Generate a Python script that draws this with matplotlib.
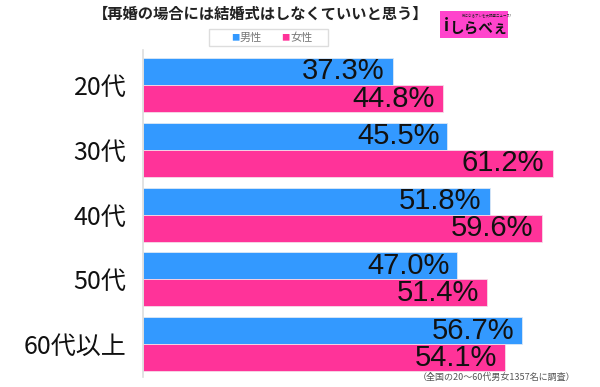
"""再婚の場合には結婚式はしなくていいと思う - 年代別棒グラフ。"""

import matplotlib

matplotlib.use("Agg")
import matplotlib.pyplot as plt
import numpy as np
from matplotlib.patches import Rectangle

plt.rcParams["font.family"] = ["Noto Sans CJK JP", "DejaVu Sans"]

categories = ["20代", "30代", "40代", "50代", "60代以上"]
male = [37.3, 45.5, 51.8, 47.0, 56.7]
female = [44.8, 61.2, 59.6, 51.4, 54.1]
series_names = ["男性", "女性"]

BLUE = "#3399ff"
PINK = "#ff3399"
NUM_FONT = ["Liberation Sans", "DejaVu Sans"]

fig = plt.figure(figsize=(6.0, 3.87), dpi=100)
ax = fig.add_axes([0.2383, 0.0258, 0.745, 0.845])

y = np.arange(len(categories))
h = 0.417
ax.barh(y - h / 2, male, height=h, color=BLUE, edgecolor="#dde8f5", linewidth=0.6)
ax.barh(y + h / 2, female, height=h, color=PINK, edgecolor="#f5dde8", linewidth=0.6)

for yi, (m, f) in enumerate(zip(male, female)):
    ax.text(m - 1.2, yi - h / 2, f"{m:.1f}%", ha="right", va="center",
            fontsize=21, color="#111111", family=NUM_FONT)
    ax.text(f - 1.2, yi + h / 2, f"{f:.1f}%", ha="right", va="center",
            fontsize=21, color="#111111", family=NUM_FONT)

ax.set_xlim(0, 66.8)
ax.set_ylim(4.506, -0.54)
ax.set_yticks(y)
ax.set_yticklabels(categories, fontsize=18, color="#111111")
ax.tick_params(axis="y", length=0, pad=12)
ax.set_xticks([])
for side in ["top", "right", "bottom"]:
    ax.spines[side].set_visible(False)
ax.spines["left"].set_color("#dddddd")
ax.spines["left"].set_linewidth(1.2)

# タイトル
fig.text(261 / 600, 1 - 14 / 387, "【再婚の場合には結婚式はしなくていいと思う】",
         ha="center", va="center", fontsize=11, fontweight="bold", color="#222222")

# 凡例
fig.patches.append(Rectangle((209 / 600, 1 - 46 / 387), 119 / 600, 17 / 387,
                             transform=fig.transFigure, facecolor="white",
                             edgecolor="#dddddd", linewidth=1))
for x0, col, name in [(235, BLUE, series_names[0]), (285, PINK, series_names[1])]:
    fig.text(x0 / 600, 1 - 37.5 / 387, "■", ha="center", va="center",
             fontsize=6, color=col)
    fig.text((x0 + 5) / 600, 1 - 37.5 / 387, name, ha="left", va="center",
             fontsize=8, color="#777777")

# ロゴ
fig.patches.append(Rectangle((440 / 600, 1 - 38 / 387), 68 / 600, 27 / 387,
                             transform=fig.transFigure, facecolor="#ff44cc",
                             edgecolor="none"))
fig.text(487 / 600, 1 - 16 / 387, "気になるアレを大調査ニュース!", ha="center",
         va="center", fontsize=2.5, color="#222222")
fig.text(446 / 600, 1 - 26 / 387, "i", ha="center", va="center",
         fontsize=12, fontweight="bold", color="#111111")
fig.text(479 / 600, 1 - 28 / 387, "しらべぇ", ha="center", va="center",
         fontsize=10.5, fontweight="bold", color="#111111")

# 注記
fig.text(575 / 600, 1 - 377.5 / 387, "（全国の20～60代男女1357名に調査）",
         ha="right", va="center", fontsize=6.5, color="#555555")

fig.savefig("out.png", dpi=100)
plt.close(fig)
